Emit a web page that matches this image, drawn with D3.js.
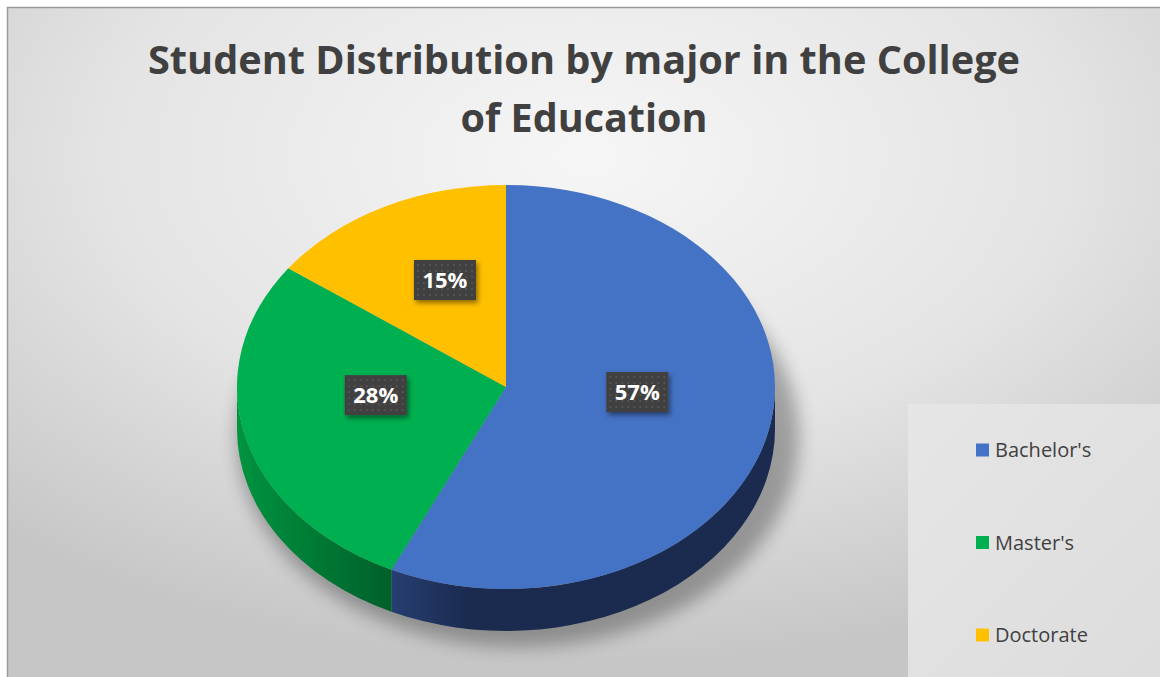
<!DOCTYPE html>
<html><head><meta charset="utf-8">
<script src="https://cdn.jsdelivr.net/npm/d3@7"></script>
<style>html,body{margin:0;padding:0;background:#fff;}svg{display:block;}</style>
</head><body>
<svg id="chart" width="1160" height="677"></svg>
<script>
const categories = ["Bachelor's", "Master's", "Doctorate"];
const values = [57, 28, 15];
const labels = ["57%", "28%", "15%"];
const colors = ["#4472C4", "#00B050", "#FFC000"];
const sideColors = [["#263e70", "#1a2b4f"], ["#009440", "#00602a"], ["#c79500", "#9a7300"]];
const titleLines = ["Student Distribution by major in the College", "of Education"];

const svg = d3.select("#chart");
const W = 1160, H = 677;
const defs = svg.append("defs");

// background gradient
const bg = defs.append("radialGradient").attr("id", "bg")
  .attr("cx", "50%").attr("cy", "22%").attr("r", "75%").attr("fx", "50%").attr("fy", "22%");
bg.append("stop").attr("offset", "0%").attr("stop-color", "#f6f6f6");
bg.append("stop").attr("offset", "55%").attr("stop-color", "#e4e4e4");
bg.append("stop").attr("offset", "100%").attr("stop-color", "#c6c6c6");

svg.append("rect").attr("x", 7).attr("y", 7).attr("width", W).attr("height", H)
  .attr("fill", "url(#bg)");
svg.append("line").attr("x1", 7).attr("x2", W).attr("y1", 7.5).attr("y2", 7.5).attr("stroke", "#9a9a9a").attr("stroke-width", 1.5);
svg.append("line").attr("x1", 7.5).attr("x2", 7.5).attr("y1", 7).attr("y2", H).attr("stroke", "#9a9a9a").attr("stroke-width", 1.5);

// filters
const blur = defs.append("filter").attr("id", "shadowBlur").attr("x", "-20%").attr("y", "-20%").attr("width", "140%").attr("height", "140%");
blur.append("feGaussianBlur").attr("stdDeviation", 9);

const ds = defs.append("filter").attr("id", "lblShadow").attr("x", "-30%").attr("y", "-30%").attr("width", "160%").attr("height", "160%");
ds.append("feDropShadow").attr("dx", 2).attr("dy", 3).attr("stdDeviation", 2.5).attr("flood-color", "#000").attr("flood-opacity", 0.45);

const pat = defs.append("pattern").attr("id", "dots").attr("width", 6).attr("height", 6).attr("patternUnits", "userSpaceOnUse");
pat.append("rect").attr("width", 6).attr("height", 6).attr("fill", "#404040");
pat.append("circle").attr("cx", 3).attr("cy", 3).attr("r", 0.9).attr("fill", "#5a5a5a");

// title
const title = svg.append("g").attr("fill", "#404040")
  .attr("font-family", "'Open Sans', 'DejaVu Sans', sans-serif").attr("font-weight", "bold");
const titleW = [872, 247];
titleLines.forEach((t, i) => {
  title.append("text").attr("x", 584).attr("y", 74 + i * 58)
    .attr("text-anchor", "middle").attr("font-size", 39)
    .attr("textLength", titleW[i]).attr("lengthAdjust", "spacingAndGlyphs")
    .text(t);
});

// 3D pie geometry
const cx = 506, cy = 387, rx = 269, ry = 202, depth = 42;
const pie = d3.pie().sort(null).value(d => d).startAngle(0).endAngle(2 * Math.PI);
const arcs = pie(values);
const pt = (a, dy = 0) => [cx + rx * Math.sin(a), cy - ry * Math.cos(a) + dy];

// shadow
svg.append("ellipse").attr("cx", cx + 12).attr("cy", cy + depth + 8).attr("rx", rx + 12).attr("ry", ry + 8)
  .attr("fill", "#000").attr("opacity", 0.3).attr("filter", "url(#shadowBlur)");

// side gradients
arcs.forEach((d, i) => {
  const g = defs.append("linearGradient").attr("id", "side" + i).attr("gradientUnits", "userSpaceOnUse");
  const s = Math.max(d.startAngle, Math.PI / 2), e = Math.min(d.endAngle, 3 * Math.PI / 2);
  const xs = [pt(s)[0], pt(e)[0]];
  const xl = Math.min(...xs), xr = Math.max(...xs);
  g.attr("y1", 0).attr("y2", 0);
  if (i === 0) {
    g.attr("x1", xr).attr("x2", xl);
    g.append("stop").attr("offset", "0%").attr("stop-color", sideColors[i][1]);
    g.append("stop").attr("offset", "80%").attr("stop-color", sideColors[i][1]);
    g.append("stop").attr("offset", "100%").attr("stop-color", sideColors[i][0]);
  } else {
    g.attr("x1", xl).attr("x2", xr);
    g.append("stop").attr("offset", "0%").attr("stop-color", sideColors[i][0]);
    g.append("stop").attr("offset", "100%").attr("stop-color", sideColors[i][1]);
  }
});

// sides
const sideG = svg.append("g");
arcs.forEach((d, i) => {
  const s = Math.max(d.startAngle, Math.PI / 2), e = Math.min(d.endAngle, 3 * Math.PI / 2);
  if (e <= s) return;
  const large = (e - s) > Math.PI ? 1 : 0;
  const p0 = pt(s), p1 = pt(e), p2 = pt(e, depth), p3 = pt(s, depth);
  const path = `M${p0}A${rx},${ry} 0 ${large} 1 ${p1}L${p2}A${rx},${ry} 0 ${large} 0 ${p3}Z`;
  sideG.append("path").attr("d", path).attr("fill", `url(#side${i})`);
});

// top faces
const topG = svg.append("g");
arcs.forEach((d, i) => {
  const large = (d.endAngle - d.startAngle) > Math.PI ? 1 : 0;
  const p0 = pt(d.startAngle), p1 = pt(d.endAngle);
  const path = `M${cx},${cy}L${p0}A${rx},${ry} 0 ${large} 1 ${p1}Z`;
  topG.append("path").attr("d", path).attr("fill", colors[i]);
});

// data labels
const lblG = svg.append("g");
arcs.forEach((d, i) => {
  const m = (d.startAngle + d.endAngle) / 2;
  const x = cx + 0.5 * rx * Math.sin(m);
  const y = cy - 0.5 * ry * Math.cos(m) - 17;
  const g = lblG.append("g").attr("transform", `translate(${x},${y})`);
  g.append("rect").attr("x", -31).attr("y", -20).attr("width", 62).attr("height", 40)
    .attr("fill", "url(#dots)").attr("filter", "url(#lblShadow)");
  g.append("text").attr("text-anchor", "middle").attr("dy", "0.36em")
    .attr("font-family", "'Open Sans', 'DejaVu Sans', sans-serif").attr("font-weight", "bold")
    .attr("font-size", 22).attr("fill", "#fff").text(labels[i]);
});

// legend
const lg = defs.append("linearGradient").attr("id", "lgbg").attr("x1", "0%").attr("x2", "100%").attr("y1", "0%").attr("y2", "100%");
lg.append("stop").attr("offset", "0%").attr("stop-color", "#e6e6e6");
lg.append("stop").attr("offset", "100%").attr("stop-color", "#dcdcdc");
svg.append("rect").attr("x", 908).attr("y", 404).attr("width", 260).attr("height", 280).attr("fill", "url(#lgbg)");
const ly = d3.scalePoint().domain(categories).range([450, 635]);
const leg = svg.append("g");
categories.forEach((c, i) => {
  leg.append("rect").attr("x", 976).attr("y", ly(c) - 6.5).attr("width", 13).attr("height", 13).attr("fill", colors[i]);
  leg.append("text").attr("x", 995).attr("y", ly(c)).attr("dy", "0.36em")
    .attr("font-family", "'Open Sans', 'DejaVu Sans', sans-serif").attr("font-size", 20)
    .attr("fill", "#404040").text(c);
});
</script>
</body></html>
